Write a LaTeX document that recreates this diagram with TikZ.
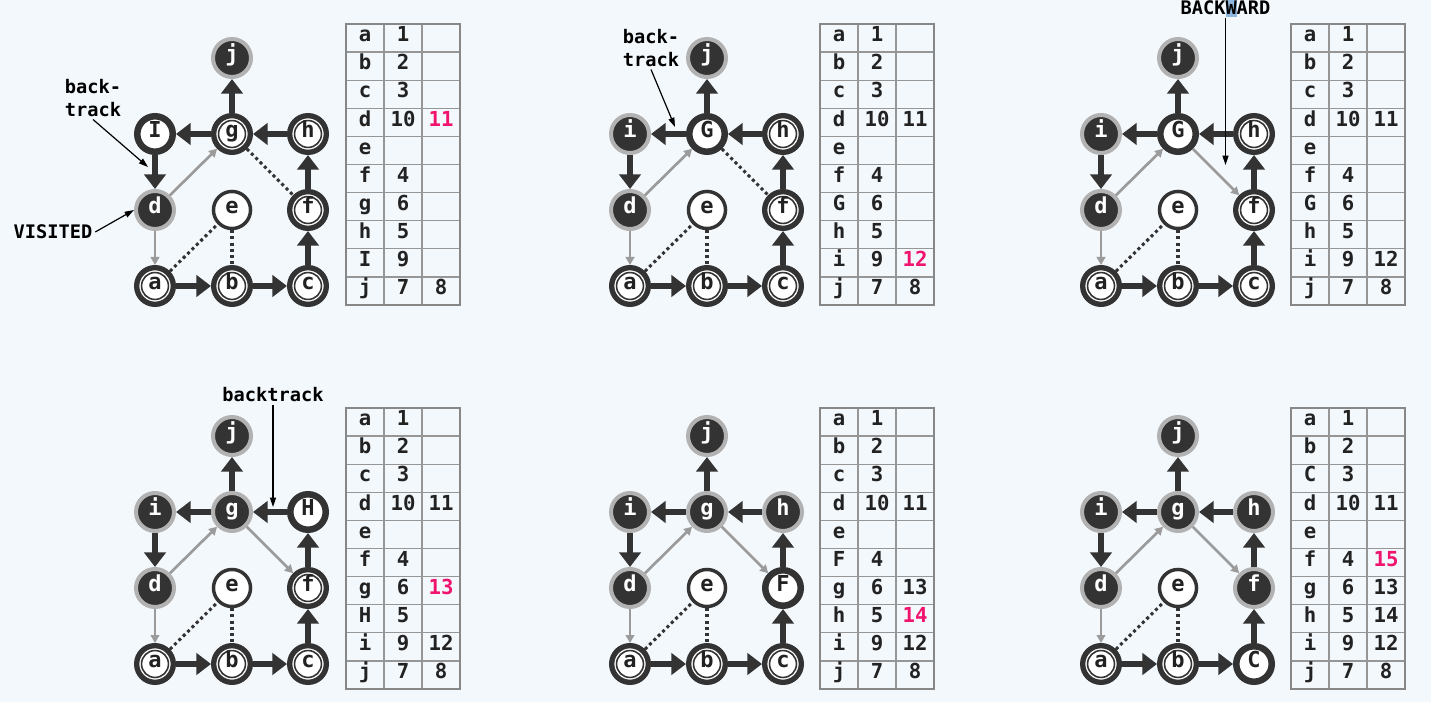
\documentclass[tikz,border=0pt]{standalone}
\usepackage{fontspec}
\setmonofont{DejaVu Sans Mono}
\usetikzlibrary{arrows.meta}

\definecolor{paper}{RGB}{243,248,252}
\definecolor{dark}{RGB}{51,51,51}
\definecolor{ink}{RGB}{34,34,34}
\definecolor{ring}{RGB}{178,178,178}
\definecolor{edgegray}{RGB}{155,155,155}
\definecolor{tabgray}{RGB}{150,150,150}
\definecolor{hot}{RGB}{240,20,110}
\definecolor{selblue}{RGB}{143,184,222}
\newcommand{\newnum}[1]{\textcolor{hot}{#1}}

\tikzset{
  vtx/.style={circle, inner sep=0pt, text=ink, text height=0.75em, text depth=0.2em,
    font=\ttfamily\bfseries\fontsize{16.5}{19}\selectfont},
  vdone/.style={vtx, fill=dark, draw=ring, line width=3pt, minimum size=28.5pt, text=white},
  vcur/.style={vtx, fill=white, draw=dark, line width=4.9pt, minimum size=26.6pt},
  vopen/.style={vtx, fill=white, draw=dark, line width=4pt, minimum size=27.5pt,
    path picture={\draw[dark, line width=1.2pt] (path picture bounding box.center) circle (10.1pt);}},
  vnew/.style={vtx, fill=white, draw=dark, line width=2.6pt, minimum size=27.8pt},
  etree/.style={draw=dark, line width=5pt, -{Triangle[length=11pt,width=16pt]}},
  eback/.style={draw=edgegray, line width=2pt, -{Triangle[length=6pt,width=6.5pt]}},
  ecross/.style={draw=dark, line width=2.3pt, dash pattern=on 2.3pt off 2.3pt},
  notetext/.style={inner sep=2pt, align=center, text=black,
    font=\ttfamily\bfseries\fontsize{14}{17}\selectfont},
  enote/.style={draw=black, line width=0.9pt, -{Triangle[length=7pt,width=4.5pt]}},
  tabcell/.style={inner sep=0pt, text=ink, text height=0.75em, text depth=0.2em,
    font=\ttfamily\bfseries\fontsize{15.5}{18}\selectfont},
  tabrule/.style={draw=tabgray, line width=1pt},
  tabframe/.style={draw=tabgray!90!black, line width=1.5pt},
  pics/dfstab/.style={code={
    \foreach \r in {1,...,9} \draw[tabrule] (0,{28.1*\r}) -- (114,{28.1*\r});
    \draw[tabrule] (38,0) -- (38,281) (76,0) -- (76,281);
    \draw[tabframe] (0,0) rectangle (114,281);
    \foreach \lbl/\pre/\post [count=\r] in {#1} {
      \node[tabcell] at (19,{28.1*(\r-0.5)})(l\r){\lbl};
      \node[tabcell] at (57,{28.1*(\r-0.5)})(p\r){\pre};
      \node[tabcell] at (95,{28.1*(\r-0.5)})(q\r){\post};
    }
  }},
}

\begin{document}
\begin{tikzpicture}[x=0.75pt, y=-0.75pt]
    \fill[paper] (0,0) rectangle (1431,702);
    \useasboundingbox (0,0) rectangle (1431,702);

    % step 1: back to d
    \begin{scope}[name prefix=A-]
        \node[vdone] at (232,58)(j){j};
        \node[vcur] at (155,134)(i){I};
        \node[vopen] at (232,134)(g){g};
        \node[vopen] at (308,134)(h){h};
        \node[vdone] at (155,210)(d){d};
        \node[vnew] at (232,210)(e){e};
        \node[vopen] at (308,210)(f){f};
        \node[vopen] at (155,286)(a){a};
        \node[vopen] at (232,286)(b){b};
        \node[vopen] at (308,286)(c){c};

        \path
        (g)edge[etree](j)
        (g)edge[etree](i)
        (h)edge[etree](g)
        (i)edge[etree](d)
        (f)edge[etree](h)
        (c)edge[etree](f)
        (a)edge[etree](b)
        (b)edge[etree](c)
        (d)edge[eback](a)
        (d)edge[eback](g)
        (g)edge[ecross](f)
        (a)edge[ecross](e)
        (e)edge[ecross](b)
        ;

        \node[notetext] at (93,98)(bt){back-\\track};
        \coordinate (bt-tip) at (148,167);
        \draw[enote] (bt.south) -- (bt-tip);
        \node[notetext] at (53,232)(vis){VISITED};
        \draw[enote] (vis.east) -- (d.west);

        \pic at (346,24) {dfstab={a/1/, b/2/, c/3/, d/10/\newnum{11}, e//, f/4/, g/6/, h/5/, I/9/, j/7/8}};
    \end{scope}

    % step 2: back to i
    \begin{scope}[shift={(475,0)}, name prefix=B-]
        \node[vdone] at (232,58)(j){j};
        \node[vdone] at (155,134)(i){i};
        \node[vcur] at (232,134)(g){G};
        \node[vopen] at (308,134)(h){h};
        \node[vdone] at (155,210)(d){d};
        \node[vnew] at (232,210)(e){e};
        \node[vopen] at (308,210)(f){f};
        \node[vopen] at (155,286)(a){a};
        \node[vopen] at (232,286)(b){b};
        \node[vopen] at (308,286)(c){c};

        \path
        (g)edge[etree](j)
        (g)edge[etree](i)
        (h)edge[etree](g)
        (i)edge[etree](d)
        (f)edge[etree](h)
        (c)edge[etree](f)
        (a)edge[etree](b)
        (b)edge[etree](c)
        (d)edge[eback](a)
        (d)edge[eback](g)
        (g)edge[ecross](f)
        (a)edge[ecross](e)
        (e)edge[ecross](b)
        ;

        \node[notetext] at (176,48)(bt){back-\\track};
        \coordinate (bt-tip) at (200,127);
        \draw[enote] (bt.south) -- (bt-tip);

        \pic at (345,24) {dfstab={a/1/, b/2/, c/3/, d/10/11, e//, f/4/, G/6/, h/5/, i/9/\newnum{12}, j/7/8}};
    \end{scope}

    % step 3: g to f
    \begin{scope}[shift={(946,0)}, name prefix=C-]
        \node[vdone] at (232,58)(j){j};
        \node[vdone] at (155,134)(i){i};
        \node[vcur] at (232,134)(g){G};
        \node[vopen] at (308,134)(h){h};
        \node[vdone] at (155,210)(d){d};
        \node[vnew] at (232,210)(e){e};
        \node[vopen] at (308,210)(f){f};
        \node[vopen] at (155,286)(a){a};
        \node[vopen] at (232,286)(b){b};
        \node[vopen] at (308,286)(c){c};

        \path
        (g)edge[etree](j)
        (g)edge[etree](i)
        (h)edge[etree](g)
        (i)edge[etree](d)
        (f)edge[etree](h)
        (c)edge[etree](f)
        (a)edge[etree](b)
        (b)edge[etree](c)
        (d)edge[eback](a)
        (d)edge[eback](g)
        (g)edge[eback](f)
        (a)edge[ecross](e)
        (e)edge[ecross](b)
        ;

        \fill[selblue] (279.5,0) rectangle (290.5,17);
        \node[notetext] at (279.5,8)(bw){BACKWARD};
        \coordinate (bw-tip) at (279.5,165);
        \draw[enote] (bw.south) -- (bw-tip);

        \pic at (345,24) {dfstab={a/1/, b/2/, c/3/, d/10/11, e//, f/4/, G/6/, h/5/, i/9/12, j/7/8}};
    \end{scope}

    % step 4: back to g
    \begin{scope}[shift={(0,378)}, name prefix=D-]
        \node[vdone] at (232,58)(j){j};
        \node[vdone] at (155,134)(i){i};
        \node[vdone] at (232,134)(g){g};
        \node[vcur] at (308,134)(h){H};
        \node[vdone] at (155,210)(d){d};
        \node[vnew] at (232,210)(e){e};
        \node[vopen] at (308,210)(f){f};
        \node[vopen] at (155,286)(a){a};
        \node[vopen] at (232,286)(b){b};
        \node[vopen] at (308,286)(c){c};

        \path
        (g)edge[etree](j)
        (g)edge[etree](i)
        (h)edge[etree](g)
        (i)edge[etree](d)
        (f)edge[etree](h)
        (c)edge[etree](f)
        (a)edge[etree](b)
        (b)edge[etree](c)
        (d)edge[eback](a)
        (d)edge[eback](g)
        (g)edge[eback](f)
        (a)edge[ecross](e)
        (e)edge[ecross](b)
        ;

        \node[notetext] at (273,17)(bk){backtrack};
        \coordinate (bk-tip) at (273,129);
        \draw[enote] (bk.south) -- (bk-tip);

        \pic at (346,30) {dfstab={a/1/, b/2/, c/3/, d/10/11, e//, f/4/, g/6/\newnum{13}, H/5/, i/9/12, j/7/8}};
    \end{scope}

    % step 5: back to h
    \begin{scope}[shift={(475,378)}, name prefix=E-]
        \node[vdone] at (232,58)(j){j};
        \node[vdone] at (155,134)(i){i};
        \node[vdone] at (232,134)(g){g};
        \node[vdone] at (308,134)(h){h};
        \node[vdone] at (155,210)(d){d};
        \node[vnew] at (232,210)(e){e};
        \node[vcur] at (308,210)(f){F};
        \node[vopen] at (155,286)(a){a};
        \node[vopen] at (232,286)(b){b};
        \node[vopen] at (308,286)(c){c};

        \path
        (g)edge[etree](j)
        (g)edge[etree](i)
        (h)edge[etree](g)
        (i)edge[etree](d)
        (f)edge[etree](h)
        (c)edge[etree](f)
        (a)edge[etree](b)
        (b)edge[etree](c)
        (d)edge[eback](a)
        (d)edge[eback](g)
        (g)edge[eback](f)
        (a)edge[ecross](e)
        (e)edge[ecross](b)
        ;

        \pic at (345,30) {dfstab={a/1/, b/2/, c/3/, d/10/11, e//, F/4/, g/6/13, h/5/\newnum{14}, i/9/12, j/7/8}};
    \end{scope}

    % step 6: back to f
    \begin{scope}[shift={(946,378)}, name prefix=F-]
        \node[vdone] at (232,58)(j){j};
        \node[vdone] at (155,134)(i){i};
        \node[vdone] at (232,134)(g){g};
        \node[vdone] at (308,134)(h){h};
        \node[vdone] at (155,210)(d){d};
        \node[vnew] at (232,210)(e){e};
        \node[vdone] at (308,210)(f){f};
        \node[vopen] at (155,286)(a){a};
        \node[vopen] at (232,286)(b){b};
        \node[vcur] at (308,286)(c){C};

        \path
        (g)edge[etree](j)
        (g)edge[etree](i)
        (h)edge[etree](g)
        (i)edge[etree](d)
        (f)edge[etree](h)
        (c)edge[etree](f)
        (a)edge[etree](b)
        (b)edge[etree](c)
        (d)edge[eback](a)
        (d)edge[eback](g)
        (g)edge[eback](f)
        (a)edge[ecross](e)
        (e)edge[ecross](b)
        ;

        \pic at (345,30) {dfstab={a/1/, b/2/, C/3/, d/10/11, e//, f/4/\newnum{15}, g/6/13, h/5/14, i/9/12, j/7/8}};
    \end{scope}
\end{tikzpicture}
\end{document}
